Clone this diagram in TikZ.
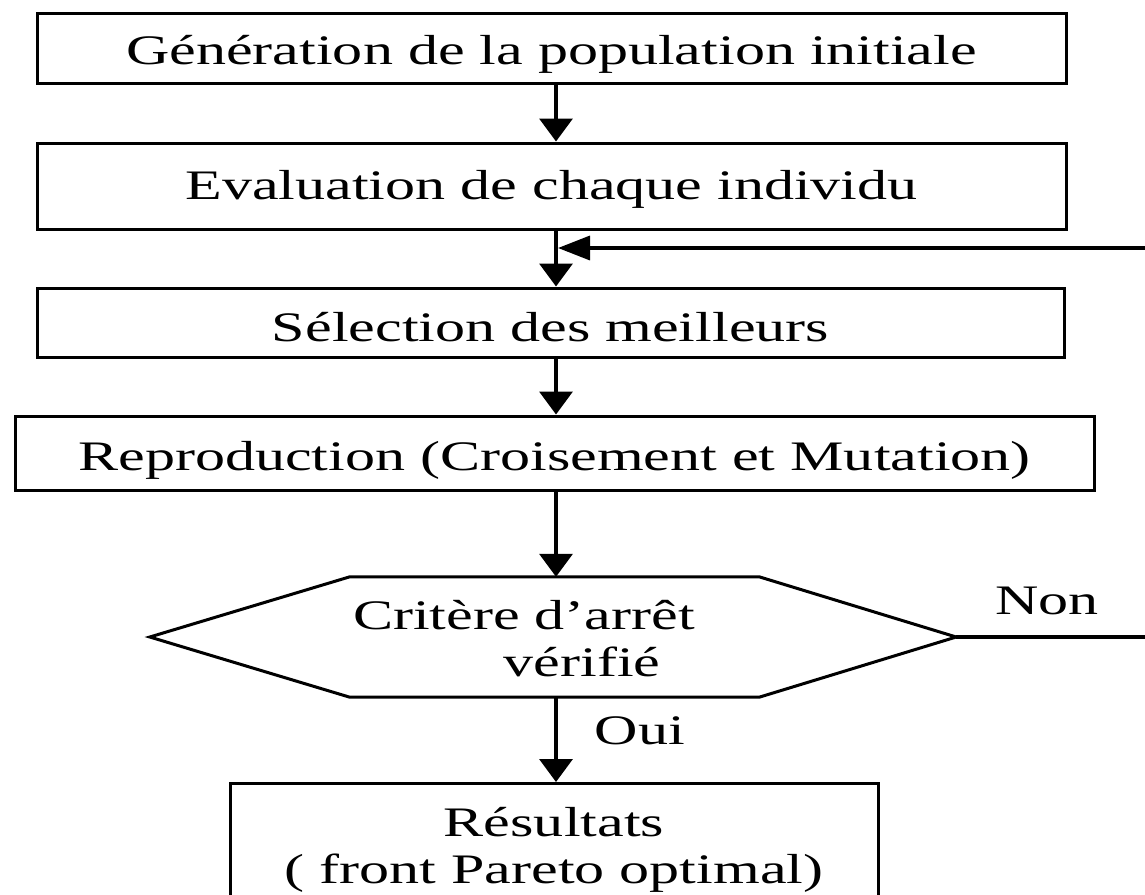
\documentclass[tikz,border=0pt]{standalone}
\usepackage{fontspec}
\setmainfont{Liberation Serif}[FakeStretch=1.43]
\usetikzlibrary{arrows.meta}

\begin{document}
\begin{tikzpicture}[x=1pt,y=1pt,
    txt/.style={font=\fontsize{42pt}{47pt}\selectfont, inner sep=0pt},
    capline/.style={text height=#1, text depth=0pt},
    stepbox/.style={txt, draw, line width=3pt, inner sep=0pt},
    flow/.style={line width=3.5pt, -{Triangle[length=23pt,width=33pt]}},
    back/.style={line width=3.5pt, -{Triangle[length=32pt,width=24pt]}},
  ]
  \clip (0,0) rectangle (1145,-894);
  \fill[white] (0,0) rectangle (1145,-894);

  % vertical axis of the flow and the loop column
  \coordinate (axis) at (556,0);
  \coordinate (loopx) at (1175,0);
  \coordinate (merge) at (556,-248);

  % process boxes
  \node[stepbox, capline=33.3pt, minimum width=1029pt, minimum height=70pt]
    (gen) at (551.5,-48) {Génération de la population initiale};
  \node[stepbox, capline=27.5pt, minimum width=1029pt, minimum height=86pt]
    (eval) at (551.5,-186) {Evaluation de chaque individu};
  \node[stepbox, capline=38.3pt, minimum width=1027pt, minimum height=69pt]
    (sel) at (550.5,-322.5) {Sélection des meilleurs};
  \node[stepbox, capline=35.3pt, minimum width=1079pt, minimum height=74pt]
    (repro) at (554.5,-453) {Reproduction (Croisement et Mutation)};

  % decision hexagon
  \node[minimum width=806pt, minimum height=120pt, inner sep=0pt]
    (crit) at (553,-637) {};
  \draw[line width=3pt, line join=miter]
    (crit.west) -- ([xshift=200pt]crit.north west) -- ([xshift=-197pt]crit.north east)
    -- (crit.east) -- ([xshift=-197pt]crit.south east) -- ([xshift=200pt]crit.south west)
    -- cycle;
  \node[txt, capline=27.5pt] (critA) at (524,-616) {Critère d’arrêt};
  \node[txt, capline=27.5pt] (critB) at (582,-663) {vérifié};

  % result box
  \node[stepbox, anchor=north, align=center, minimum width=648pt, minimum height=133pt]
    (res) at (554,-782) {Résultats\\( front Pareto optimal)};

  % branch labels
  \node[txt, capline=27.5pt] (non) at (1047,-601) {Non};
  \node[txt, capline=27.5pt] (oui) at (640,-731) {Oui};

  % connectors
  \draw[flow] (gen.south -| axis) -- (eval.north -| axis);
  \draw[flow] (eval.south -| axis) -- (sel.north -| axis);
  \draw[flow] (sel.south -| axis) -- (repro.north -| axis);
  \draw[flow] (repro.south -| axis) -- (crit.north -| axis);
  \draw[flow] (crit.south -| axis) -- (res.north -| axis);
  \draw[back] (crit.east) -- (crit.east -| loopx) |- ([xshift=2pt]merge);
\end{tikzpicture}
\end{document}
